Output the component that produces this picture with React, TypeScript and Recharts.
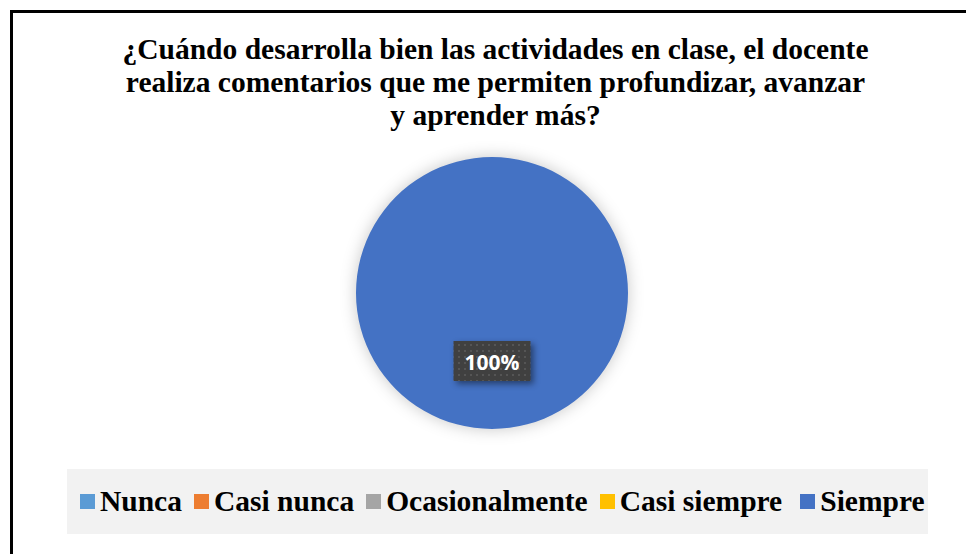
import React from "react";
import { PieChart, Pie, Cell } from "recharts";

const categories = ["Nunca", "Casi nunca", "Ocasionalmente", "Casi siempre", "Siempre"];
const values = [0, 0, 0, 0, 100];
const colors = ["#5B9BD5", "#ED7D31", "#A5A5A5", "#FFC000", "#4472C4"];

const data = categories.map((name, i) => ({ name, value: values[i] }));

const RADIAN = Math.PI / 180;

function PctLabel(props: any) {
  const { cx, cy, midAngle, outerRadius, percent } = props;
  if (!percent) return null;
  const r = outerRadius * 0.5;
  const x = cx + r * Math.cos(-midAngle * RADIAN);
  const y = cy + r * Math.sin(-midAngle * RADIAN);
  const w = 77;
  const h = 40;
  return (
    <g>
      <defs>
        <pattern id="dots" width="6" height="6" patternUnits="userSpaceOnUse">
          <rect width="6" height="6" fill="#404040" />
          <rect x="2" y="2" width="2" height="2" fill="#555555" />
        </pattern>
      </defs>
      <rect
        x={x - w / 2}
        y={y - h / 2}
        width={w}
        height={h}
        fill="url(#dots)"
        style={{ filter: "drop-shadow(3px 3px 3px rgba(0,0,0,0.45))" }}
      />
      <text
        x={x}
        y={y + 1}
        fill="#ffffff"
        textAnchor="middle"
        dominantBaseline="central"
        fontFamily="'Open Sans', sans-serif"
        fontWeight={700}
        fontSize={21}
      >
        {`${Math.round(percent * 100)}%`}
      </text>
    </g>
  );
}

export default function App() {
  return (
    <div style={{ position: "fixed", left: 0, top: 0, width: 966, height: 554, overflow: "hidden", background: "#fff" }}>
      <div
        style={{
          position: "absolute",
          left: 10,
          top: 10,
          width: 980,
          height: 580,
          border: "3px solid #000",
          boxSizing: "border-box",
        }}
      />
      <div
        style={{
          position: "absolute",
          left: 0,
          top: 33,
          width: 991,
          textAlign: "center",
          fontFamily: "'Liberation Serif', 'Times New Roman', serif",
          fontWeight: 700,
          fontSize: 29.5,
          lineHeight: "33px",
          color: "#000",
        }}
      >
        ¿Cuándo desarrolla bien las actividades en clase, el docente
        <br />
        realiza comentarios que me permiten profundizar, avanzar
        <br />y aprender más?
      </div>
      <div style={{ position: "absolute", left: 0, top: 0 }}>
        <PieChart width={966} height={554} margin={{ top: 0, right: 0, bottom: 0, left: 0 }}>
          <Pie
            data={data}
            dataKey="value"
            nameKey="name"
            cx={492}
            cy={293}
            outerRadius={136}
            startAngle={90}
            endAngle={-270}
            stroke="none"
            label={PctLabel}
            labelLine={false}
            isAnimationActive={false}
          >
            {data.map((d, i) => (
              <Cell
                key={d.name}
                fill={colors[i]}
                style={{ filter: "drop-shadow(0px 0px 8px rgba(0,0,0,0.22))" }}
              />
            ))}
          </Pie>
        </PieChart>
      </div>
      <div
        style={{
          position: "absolute",
          left: 67,
          top: 469,
          width: 861,
          height: 65,
          boxSizing: "border-box",
          paddingLeft: 13,
          background: "#f2f2f2",
          display: "flex",
          alignItems: "center",
          justifyContent: "flex-start",
          gap: 12,
          fontFamily: "'Liberation Serif', 'Times New Roman', serif",
          fontWeight: 700,
          fontSize: 29.5,
          color: "#000",
          whiteSpace: "nowrap",
        }}
      >
        {categories.map((name, i) => (
          <div
            key={name}
            style={{
              display: "flex",
              alignItems: "center",
              gap: 5,
              marginLeft: i === categories.length - 1 ? 6 : 0,
            }}
          >
            <span style={{ width: 15, height: 15, background: colors[i], display: "inline-block" }} />
            <span>{name}</span>
          </div>
        ))}
      </div>
    </div>
  );
}
